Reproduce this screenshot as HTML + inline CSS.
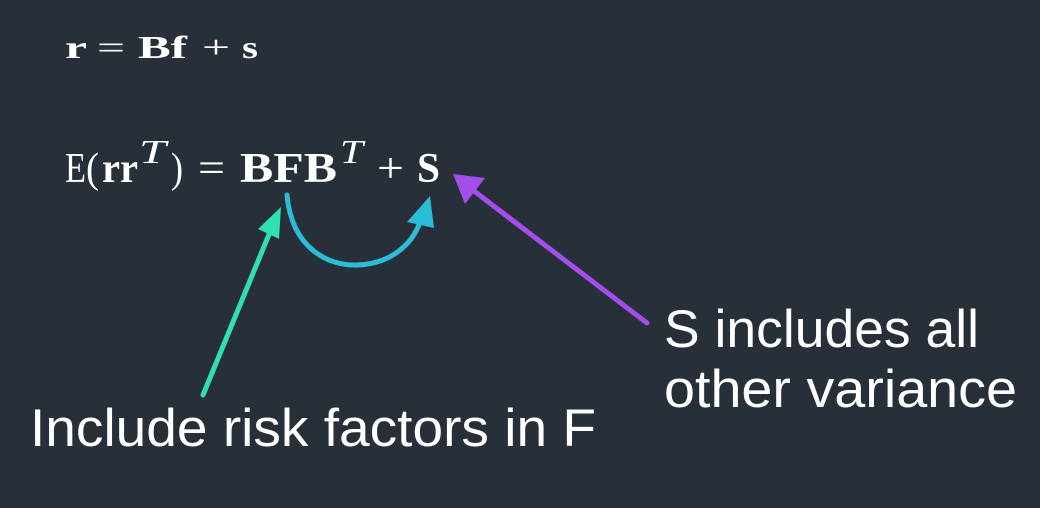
<!DOCTYPE html>
<html><head><meta charset="utf-8">
<style>
html,body{margin:0;padding:0;background:#272f38;}
svg{display:block;}
</style></head>
<body>
<svg width="1040" height="508" viewBox="0 0 1040 508" xmlns="http://www.w3.org/2000/svg">
<rect width="1040" height="508" fill="#272f38"/>
<g fill="#ffffff" font-family="'Liberation Serif', serif">
<text x="65" y="58" font-size="32" font-weight="bold" textLength="22" lengthAdjust="spacingAndGlyphs">r</text>
<text x="97" y="58" font-size="32" textLength="28" lengthAdjust="spacingAndGlyphs">=</text>
<text x="138" y="58" font-size="32" font-weight="bold" textLength="49" lengthAdjust="spacingAndGlyphs">Bf</text>
<text x="202" y="58" font-size="32" textLength="28" lengthAdjust="spacingAndGlyphs">+</text>
<text x="242" y="58" font-size="32" font-weight="bold" textLength="16" lengthAdjust="spacingAndGlyphs">s</text>
</g>
<g fill="#ffffff" font-family="'Liberation Serif', serif">
<text x="65" y="182" font-size="42" textLength="21" lengthAdjust="spacingAndGlyphs">E</text>
<text x="86" y="182" font-size="42" textLength="13" lengthAdjust="spacingAndGlyphs">(</text>
<text x="102" y="182" font-size="42" font-weight="bold" textLength="36" lengthAdjust="spacingAndGlyphs">rr</text>
<text x="139" y="163" font-size="34" font-style="italic" textLength="27" lengthAdjust="spacingAndGlyphs">T</text>
<text x="171" y="182" font-size="42" textLength="12" lengthAdjust="spacingAndGlyphs">)</text>
<text x="198" y="182" font-size="42" textLength="27" lengthAdjust="spacingAndGlyphs">=</text>
<text x="240" y="182" font-size="42" font-weight="bold" textLength="97" lengthAdjust="spacingAndGlyphs">BFB</text>
<text x="340" y="163" font-size="34" font-style="italic" textLength="23" lengthAdjust="spacingAndGlyphs">T</text>
<text x="377" y="182" font-size="42" textLength="27" lengthAdjust="spacingAndGlyphs">+</text>
<text x="417" y="182" font-size="42" font-weight="bold" textLength="23" lengthAdjust="spacingAndGlyphs">S</text>
</g>
<g>
<line x1="203" y1="395" x2="270" y2="232" stroke="#2ee0b2" stroke-width="5" stroke-linecap="round"/>
<polygon points="281,207 258,229 279,239" fill="#2ee0b2"/>
</g>
<g>
<path d="M287,195 C292,250 330,266 357,265 C390,264 412,245 420,222" fill="none" stroke="#2bbcd8" stroke-width="5" stroke-linecap="round"/>
<polygon points="430,196 407,222 434,228" fill="#2bbcd8"/>
</g>
<g>
<line x1="647" y1="323" x2="474" y2="191" stroke="#a34ded" stroke-width="5" stroke-linecap="round"/>
<polygon points="453,174 465,204 485,178" fill="#a34ded"/>
</g>
<g fill="#ffffff" font-family="'Liberation Sans', sans-serif" font-size="53">
<text x="664" y="347" textLength="315" lengthAdjust="spacingAndGlyphs">S includes all</text>
<text x="664" y="407" textLength="353" lengthAdjust="spacingAndGlyphs">other variance</text>
<text x="30" y="446" textLength="566" lengthAdjust="spacingAndGlyphs">Include risk factors in F</text>
</g>
</svg>
</body></html>
